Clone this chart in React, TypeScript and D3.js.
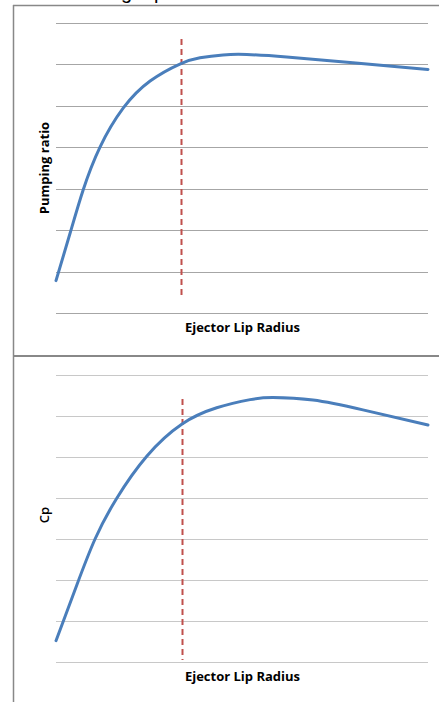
import React from "react";
import * as d3 from "d3";

// Top panel: pumping ratio vs ejector lip radius
const radiusTop = [0, 0.38, 0.73, 1.18, 1.81, 2.53, 3.33, 3.87, 4.49, 5.13, 6.2, 7.98, 10];
const pumpingRatio = [0.78, 1.93, 2.97, 4.0, 4.95, 5.6, 6.01, 6.16, 6.23, 6.24, 6.18, 6.04, 5.88];
// Bottom panel: Cp vs ejector lip radius
const radiusBottom = [0, 0.56, 1.05, 1.63, 2.44, 3.38, 4.32, 5.22, 5.83, 6.91, 8.25, 10];
const cpValues = [0.52, 1.88, 3.0, 3.99, 5.02, 5.8, 6.2, 6.4, 6.45, 6.39, 6.15, 5.78];
const gridTicks = [0, 1, 2, 3, 4, 5, 6, 7];
const designRadiusTop = 3.35;
const designRadiusBottom = 3.38;
const xLabel = "Ejector Lip Radius";
const yLabelTop = "Pumping ratio";
const yLabelBottom = "Cp";

const W = 439;
const H = 702;
const BLUE = "#4a7ebb";
const RED = "#c0504d";
const FONT = "'Open Sans', 'Noto Sans', sans-serif";

type PanelProps = {
  xs: number[];
  ys: number[];
  top: number;
  bottom: number;
  design: number;
  dashTop: number;
  dashBottom: number;
  gridColor: string;
  yLabel: string;
  yLabelBold: boolean;
  yLabelY: number;
  xLabelY: number;
};

function Panel(p: PanelProps) {
  const x = d3.scaleLinear().domain([0, 10]).range([56, 428]);
  const y = d3.scaleLinear().domain([0, 7]).range([p.bottom, p.top]);
  const line = d3
    .line<number>()
    .x((_, i) => x(p.xs[i]))
    .y((d) => y(d))
    .curve(d3.curveNatural);
  const dx = Math.round(x(p.design)) + 0.5;
  return (
    <g>
      {gridTicks.map((t) => (
        <line
          key={t}
          x1={56}
          x2={428}
          y1={Math.round(y(t)) + 0.5}
          y2={Math.round(y(t)) + 0.5}
          stroke={p.gridColor}
          strokeWidth={1}
        />
      ))}
      <line x1={dx} x2={dx} y1={p.dashTop} y2={p.dashBottom} stroke={RED} strokeWidth={2} strokeDasharray="6,4" />
      <path d={line(p.ys) || ""} fill="none" stroke={BLUE} strokeWidth={3} strokeLinecap="round" strokeLinejoin="round" />
      <text x={242.5} y={p.xLabelY} textAnchor="middle" fontFamily={FONT} fontWeight="bold" fontSize={13} fill="#000">
        {xLabel}
      </text>
      <text
        transform={`translate(49,${p.yLabelY}) rotate(-90)`}
        textAnchor="middle"
        fontFamily={FONT}
        fontWeight={p.yLabelBold ? "bold" : 600}
        fontSize={13}
        fill="#000"
      >
        {p.yLabel}
      </text>
    </g>
  );
}

export default function App() {
  return (
    <svg width={W} height={H} style={{ position: "absolute", left: 0, top: 0, background: "#fff" }}>
      <rect x={0} y={0} width={W} height={H} fill="#fff" />
      <text fontFamily="'Liberation Sans', sans-serif" fontSize={20} y={-1} fill="#000">
        <tspan x={121}>g</tspan>
        <tspan x={154}>p</tspan>
      </text>
      {/* frames */}
      <line x1={13.5} x2={13.5} y1={5} y2={H} stroke="#888" strokeWidth={1.5} />
      <line x1={13} x2={W} y1={5.5} y2={5.5} stroke="#888" strokeWidth={1.5} />
      <line x1={13} x2={W} y1={356} y2={356} stroke="#888" strokeWidth={2} />
      <Panel
        xs={radiusTop}
        ys={pumpingRatio}
        top={23}
        bottom={313}
        design={designRadiusTop}
        dashTop={39}
        dashBottom={299}
        gridColor="#a6a6a6"
        yLabel={yLabelTop}
        yLabelBold={true}
        yLabelY={168}
        xLabelY={332}
      />
      <Panel
        xs={radiusBottom}
        ys={cpValues}
        top={375}
        bottom={662}
        design={designRadiusBottom}
        dashTop={399}
        dashBottom={660}
        gridColor="#c8c8c8"
        yLabel={yLabelBottom}
        yLabelBold={false}
        yLabelY={515}
        xLabelY={681}
      />
    </svg>
  );
}
